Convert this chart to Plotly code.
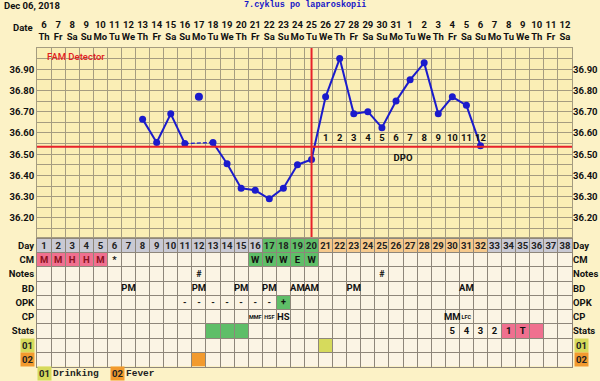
import plotly.graph_objects as go

# ---------------- data ----------------
days = list(range(1, 39))
dates = list(range(6, 32)) + list(range(1, 13))
week = ["Th", "Fr", "Sa", "Su", "Mo", "Tu", "We"]
weekdays = [week[i % 7] for i in range(38)]

temps = [None, None, None, None, None, None, None,
         36.665, 36.555, 36.69, 36.55, 36.77, 36.555, 36.455, 36.34, 36.33,
         36.29, 36.34, 36.45, 36.475, 36.77, 36.95, 36.69, 36.70, 36.625,
         36.75, 36.85, 36.93, 36.69, 36.77, 36.73, 36.54,
         None, None, None, None, None, None]
excluded_days = [12]
ovulation_day = 20
coverline = 36.535
dpo_days = list(range(21, 33))
temp_ticks = [36.2, 36.3, 36.4, 36.5, 36.6, 36.7, 36.8, 36.9]

row_labels = ["Day", "CM", "Notes", "BD", "OPK", "CP", "Stats", "01", "02"]

day_green = [17, 18, 19, 20]
day_orange = list(range(21, 33))
cm_text = {1: "M", 2: "M", 3: "H", 4: "H", 5: "M", 6: "*",
           16: "W", 17: "W", 18: "W", 19: "E", 20: "W"}
cm_pink = [1, 2, 3, 4, 5]
cm_green = [16, 17, 18, 19, 20]
notes_text = {12: "#", 25: "#"}
bd_text = {7: "PM", 12: "PM", 15: "PM", 17: "PM", 19: "AM", 20: "AM",
           23: "PM", 31: "AM"}
opk_text = {11: "-", 12: "-", 13: "-", 14: "-", 15: "-", 16: "-", 17: "-",
            18: "+"}
opk_green = [18]
cp_text = {16: "MMF", 17: "HSF", 18: "HS", 30: "MM", 31: "LFC"}
cp_small = [16, 17, 31]
stats_text = {30: "5", 31: "4", 32: "3", 33: "2", 34: "1", 35: "T"}
stats_green = [13, 14, 15]
stats_pink = [34, 35, 36]
flag01_days = [21]
flag02_days = [12]
legend_items = [("01", "Drinking"), ("02", "Fever")]

# ---------------- style ----------------
W, H = 600, 381
ML, MR = 37, 28
PAPER = "#FCF2C6"
PLOTBG = "#FAEEB5"
CELL = "#FBF4E4"
GRID_T = "#A59C80"
GRID_B = "#8E867A"
BLUE = "#1B1BCC"
RED = "#E8222A"
GRAY = "#C9C9D3"
GREEN = "#5FBE68"
ORANGE = "#F6C98C"
PINK = "#F0708F"
C01 = "#D6DA5C"
C02 = "#F29A2E"
FONT = "Roboto"
MONO = "Liberation Mono"


def py(px):
    return 1 - px / H


def px2x(px):
    return (px - ML) / (W - ML - MR)


fig = go.Figure()

# ---------------- temperature line ----------------
valid = [(d, t) for d, t in zip(days, temps) if t is not None and d not in excluded_days]
seg_x, seg_y = [], []
dash_x, dash_y = [], []
for i, (d, t) in enumerate(valid):
    if i > 0:
        pd_, pt = valid[i - 1]
        if d - pd_ == 1:
            seg_x += [pd_, d, None]
            seg_y += [pt, t, None]
        else:
            dash_x += [pd_, d, None]
            dash_y += [pt, t, None]
fig.add_trace(go.Scatter(x=dash_x, y=dash_y, mode="lines",
                         line=dict(color=BLUE, width=1.3, dash="4px,2px"),
                         xaxis="x", yaxis="y", hoverinfo="skip"))
fig.add_trace(go.Scatter(x=seg_x, y=seg_y, mode="lines",
                         line=dict(color=BLUE, width=2),
                         xaxis="x", yaxis="y", hoverinfo="skip"))
fig.add_trace(go.Scatter(x=[d for d, t in valid], y=[t for d, t in valid],
                         mode="markers", marker=dict(color=BLUE, size=7),
                         xaxis="x", yaxis="y"))
ex_x = [d for d in excluded_days]
ex_y = [temps[d - 1] for d in excluded_days]
fig.add_trace(go.Scatter(x=ex_x, y=ex_y, mode="markers",
                         marker=dict(color=BLUE, size=8),
                         xaxis="x", yaxis="y"))

# DPO labels
fig.add_trace(go.Scatter(x=dpo_days, y=[coverline + 0.04] * len(dpo_days),
                         mode="text", text=[str(i + 1) for i in range(len(dpo_days))],
                         textfont=dict(family=FONT, size=9.5, color="#111", weight="bold"),
                         xaxis="x", yaxis="y"))
fig.add_trace(go.Scatter(x=[sum(dpo_days) / len(dpo_days)], y=[coverline - 0.055],
                         mode="text", text=["DPO"],
                         textfont=dict(family=FONT, size=9.5, color="#111", weight="bold"),
                         xaxis="x", yaxis="y"))
# right temp axis carrier
fig.add_trace(go.Scatter(x=[days[0]], y=[temp_ticks[0]], mode="markers",
                         marker=dict(opacity=0), xaxis="x", yaxis="y3",
                         hoverinfo="skip"))

# ---------------- table ----------------
shapes = []
shapes.append(dict(type="rect", xref="x2", yref="y2", x0=0.5, x1=38.5, y0=0, y1=9,
                   fillcolor=CELL, line=dict(width=0), layer="below"))


def cell(day, row, color):
    shapes.append(dict(type="rect", xref="x2", yref="y2",
                       x0=day - 0.5, x1=day + 0.5, y0=row, y1=row + 1,
                       fillcolor=color, line=dict(width=0), layer="below"))


for d in days:
    if d in day_green:
        cell(d, 0, GREEN)
    elif d in day_orange:
        cell(d, 0, ORANGE)
    else:
        cell(d, 0, GRAY)
for d in cm_pink:
    cell(d, 1, PINK)
for d in cm_green:
    cell(d, 1, GREEN)
for d in opk_green:
    cell(d, 4, GREEN)
for d in stats_green:
    cell(d, 6, GREEN)
for d in stats_pink:
    cell(d, 6, PINK)
for d in flag01_days:
    cell(d, 7, C01)
for d in flag02_days:
    cell(d, 8, C02)


def row_text(row, mapping, size=9, colors=None, small=None):
    xs = list(mapping.keys())
    txt = list(mapping.values())
    sizes = [5.5 if (small and x in small) else size for x in xs]
    cols = [colors.get(x, "#111") if colors else "#111" for x in xs]
    fig.add_trace(go.Scatter(x=xs, y=[row + 0.55] * len(xs), mode="text", text=txt,
                             textfont=dict(family=FONT, size=sizes, color=cols, weight="bold"),
                             xaxis="x2", yaxis="y2", hoverinfo="skip"))


row_text(0, {d: str(d) for d in days}, size=9.5, colors={d: "#222" for d in days})
row_text(1, cm_text, size=9.5, colors={d: "#8A1020" for d in cm_pink})
row_text(2, notes_text)
row_text(3, bd_text, size=9.5)
row_text(4, opk_text)
row_text(5, cp_text, size=9.5, small=cp_small)
row_text(6, stats_text, size=9.5)

# right table axis carrier
fig.add_trace(go.Scatter(x=[days[0]], y=[0.5], mode="markers", marker=dict(opacity=0),
                         xaxis="x2", yaxis="y4", hoverinfo="skip"))

# red lines
shapes.append(dict(type="line", xref="x domain", yref="y", x0=0, x1=1,
                   y0=coverline, y1=coverline, line=dict(color=RED, width=2), layer="above"))
shapes.append(dict(type="line", xref="x", yref="y domain", x0=ovulation_day, x1=ovulation_day,
                   y0=0, y1=1, line=dict(color=RED, width=2), layer="above"))

# ---------------- annotations ----------------
ann = []
ann.append(dict(text="<b>Dec 06, 2018</b>", xref="paper", yref="paper", x=px2x(2), y=py(5),
                xanchor="left", yanchor="middle", showarrow=False,
                font=dict(family=FONT, size=9.5, color="#111")))
ann.append(dict(text="<b>7.cyklus po laparoskopii</b>", xref="paper", yref="paper",
                x=px2x(304.5), y=py(5), xanchor="center", yanchor="middle", showarrow=False,
                font=dict(family=MONO, size=8.5, color="#1616C8")))
ann.append(dict(text="<b>Date</b>", xref="paper", yref="paper", x=px2x(35), y=py(28),
                xanchor="right", yanchor="middle", showarrow=False,
                font=dict(family=FONT, size=9.5, color="#111")))
ann.append(dict(text="FAM Detector", xref="paper", yref="paper", x=px2x(45), y=py(57),
                xanchor="left", yanchor="middle", showarrow=False,
                font=dict(family=FONT, size=9.5, color="#E02020", weight=500)))
for i, (code, col) in enumerate([("01", C01), ("02", C02)]):
    r = 7 + i
    ann.append(dict(text="<b>%s</b>" % code, xref="paper", yref="y2", x=0, y=r + 0.5,
                    xanchor="right", yanchor="middle", xshift=-2, showarrow=False,
                    bgcolor=col, borderpad=1,
                    font=dict(family=FONT, size=9.5, color="#222")))
    ann.append(dict(text="<b>%s</b>" % code, xref="paper", yref="y2", x=1, y=r + 0.5,
                    xanchor="left", yanchor="middle", xshift=2, showarrow=False,
                    bgcolor=col, borderpad=1,
                    font=dict(family=FONT, size=9.5, color="#222")))
leg_pos = [(37, 51), (110, 124)]
for (code, label), (bx, tx), col in zip(legend_items, leg_pos, [C01, C02]):
    ann.append(dict(text="<b>%s</b>" % code, xref="paper", yref="paper", x=px2x(bx), y=py(373),
                    xanchor="left", yanchor="middle", showarrow=False, bgcolor=col,
                    borderpad=1, font=dict(family=FONT, size=9.5, color="#222")))
    ann.append(dict(text="<b>%s</b>" % label, xref="paper", yref="paper", x=px2x(tx), y=py(373),
                    xanchor="left", yanchor="middle", showarrow=False,
                    font=dict(family=MONO, size=9.5, color="#222")))

# ---------------- layout ----------------
tick_font = dict(family=FONT, size=9.5, color="#111", weight="bold")
row_ticktext = [lab if lab not in ("01", "02") else "" for lab in row_labels]

fig.update_layout(
    width=W, height=H, margin=dict(l=ML, r=MR, t=0, b=0),
    paper_bgcolor=PAPER, plot_bgcolor=PLOTBG, showlegend=False,
    font=dict(family=FONT),
    shapes=shapes, annotations=ann,
    xaxis=dict(domain=[0, 1], range=[0.5, 38.5], anchor="y", side="top",
               tickmode="array", tickvals=days, tickangle=0,
               ticktext=["%d<br>%s" % (a, b) for a, b in zip(dates, weekdays)],
               tickfont=dict(family=FONT, size=9.5, color="#111", weight="bold"),
               ticks="", showgrid=False, zeroline=False, ticklabelstandoff=3,
               minor=dict(tickmode="linear", tick0=0.5, dtick=1, showgrid=True,
                          gridcolor=GRID_T, gridwidth=1),
               showline=True, mirror=True, linecolor=GRID_T, linewidth=1),
    yaxis=dict(domain=[py(237), py(48)], range=[36.11, 37.0], anchor="x",
               tickmode="array", tickvals=temp_ticks, tickformat=".2f",
               tickfont=tick_font, ticks="", showgrid=True, gridcolor=GRID_T,
               zeroline=False,
               minor=dict(tickmode="linear", tick0=36.0, dtick=0.05, showgrid=True,
                          gridcolor=GRID_T, gridwidth=1),
               showline=True, mirror=True, linecolor=GRID_T, linewidth=1),
    yaxis3=dict(overlaying="y", side="right", range=[36.11, 37.0], anchor="x",
                tickmode="array", tickvals=temp_ticks, tickformat=".2f",
                tickfont=tick_font, ticks="", showgrid=False, zeroline=False),
    xaxis2=dict(domain=[0, 1], range=[0.5, 38.5], anchor="y2", showticklabels=False,
                ticks="", showgrid=False, zeroline=False,
                minor=dict(tickmode="linear", tick0=0.5, dtick=1, showgrid=True,
                           gridcolor=GRID_B, gridwidth=1),
                showline=True, mirror=True, linecolor=GRID_B, linewidth=1),
    yaxis2=dict(domain=[py(366.5), py(238.5)], range=[9, 0], anchor="x2",
                tickmode="array", tickvals=[i + 0.5 for i in range(9)],
                ticktext=row_ticktext, tickfont=tick_font, ticks="",
                showgrid=False, zeroline=False,
                minor=dict(tickmode="linear", tick0=0, dtick=1, showgrid=True,
                           gridcolor=GRID_B, gridwidth=1),
                showline=True, mirror=True, linecolor=GRID_B, linewidth=1),
    yaxis4=dict(overlaying="y2", side="right", range=[9, 0], anchor="x2",
                tickmode="array", tickvals=[i + 0.5 for i in range(9)],
                ticktext=row_ticktext, tickfont=tick_font, ticks="",
                showgrid=False, zeroline=False),
)

fig.write_html("out.html", config={"displayModeBar": False})
